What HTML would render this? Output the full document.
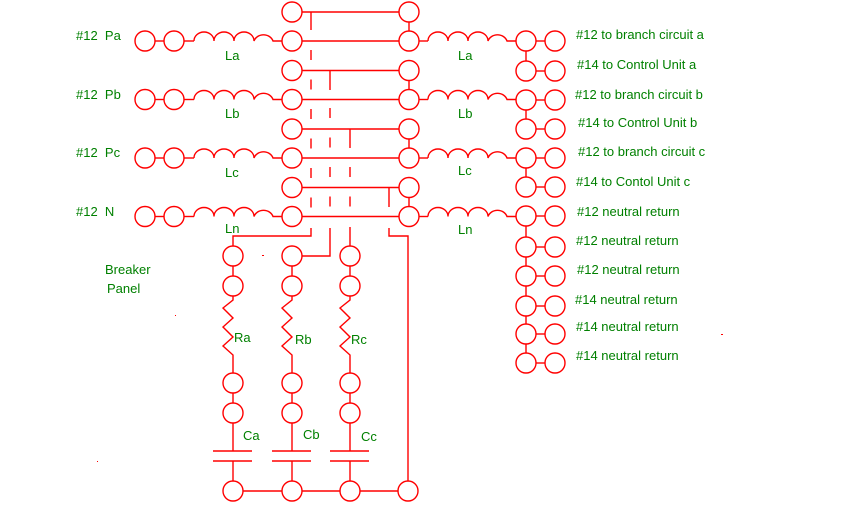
<!DOCTYPE html>
<html><head><meta charset="utf-8"><style>
html,body{margin:0;padding:0;background:#fff;}
svg{display:block;}
text{font-family:"Liberation Sans",sans-serif;font-size:13px;fill:#008000;white-space:pre;}
</style></head><body>
<svg width="857" height="513" viewBox="0 0 857 513" xmlns="http://www.w3.org/2000/svg">
<g stroke="#f00" stroke-width="1.4" fill="none">
<g id="rowA">
<circle cx="145" cy="41" r="10"/><circle cx="174" cy="41" r="10"/>
<line x1="155" y1="41" x2="164" y2="41"/><line x1="184" y1="41" x2="194" y2="41"/>
<path d="M194 41 a10 9 0 0 1 20 0 a10 9 0 0 1 20 0 a10 9 0 0 1 20 0 a10 9 0 0 1 19 0 L282 41"/>
<circle cx="292" cy="41" r="10"/><line x1="302" y1="41" x2="399" y2="41"/><circle cx="409" cy="41" r="10"/>
<line x1="419" y1="41" x2="428" y2="41"/>
<path d="M428 41 a10 9 0 0 1 20 0 a10 9 0 0 1 20 0 a10 9 0 0 1 20 0 a10 9 0 0 1 19 0 L516 41"/>
</g>
<use href="#rowA" y="58.5"/>
<use href="#rowA" y="117"/>
<use href="#rowA" y="175.5"/>
<g id="topA">
<circle cx="292" cy="12" r="10"/><line x1="302" y1="12" x2="399" y2="12"/><circle cx="409" cy="12" r="10"/>
<line x1="409" y1="22" x2="409" y2="31"/>
</g>
<use href="#topA" y="58.5"/>
<use href="#topA" y="117"/>
<use href="#topA" y="175.5"/>
<line x1="311" y1="12" x2="311" y2="30"/>
<line x1="330" y1="70" x2="330" y2="90"/>
<line x1="350" y1="129" x2="350" y2="148"/>
<line x1="389" y1="187" x2="389" y2="207"/>
<g stroke-dasharray="10 19.5">
<line x1="311" y1="50" x2="311" y2="208"/>
<line x1="330" y1="108" x2="330" y2="208"/>
<line x1="350" y1="167" x2="350" y2="208"/>
</g>
<polyline points="311,228 311,236 233,236 233,246"/>
<polyline points="330,228 330,256 302,256"/>
<line x1="350" y1="227" x2="350" y2="246"/>
<polyline points="389,228 389,236 408,236 408,481"/>
<g id="rc">
<circle cx="526" cy="41" r="10"/><line x1="536" y1="41" x2="545" y2="41"/><circle cx="555" cy="41" r="10"/>
</g>
<use href="#rc" y="30"/><use href="#rc" y="59"/><use href="#rc" y="88"/><use href="#rc" y="117"/>
<use href="#rc" y="146"/><use href="#rc" y="175"/><use href="#rc" y="206"/><use href="#rc" y="235"/>
<use href="#rc" y="265"/><use href="#rc" y="293"/><use href="#rc" y="322"/>
<line x1="526" y1="51" x2="526" y2="61"/>
<line x1="526" y1="110" x2="526" y2="119"/>
<line x1="526" y1="168" x2="526" y2="177"/>
<line x1="526" y1="226" x2="526" y2="237"/>
<line x1="526" y1="257" x2="526" y2="266"/>
<line x1="526" y1="286" x2="526" y2="296"/>
<line x1="526" y1="316" x2="526" y2="324"/>
<line x1="526" y1="344" x2="526" y2="353"/>
<g id="br">
<circle cx="233" cy="256" r="10"/><line x1="233" y1="266" x2="233" y2="276"/>
<circle cx="233" cy="286" r="10"/>
<polyline points="233,296 233,300 223,308 233,318 223,327 233,337 223,346 233,355 233,373"/>
<circle cx="233" cy="383" r="10"/><line x1="233" y1="393" x2="233" y2="403"/>
<circle cx="233" cy="413" r="10"/>
<line x1="233" y1="423" x2="233" y2="451"/>
<line x1="213" y1="451" x2="252" y2="451"/><line x1="213" y1="461" x2="252" y2="461"/>
<line x1="233" y1="461" x2="233" y2="481"/>
<circle cx="233" cy="491" r="10"/>
</g>
<use href="#br" x="59"/><use href="#br" x="117"/>
<circle cx="408" cy="491" r="10"/>
<line x1="243" y1="491" x2="282" y2="491"/>
<line x1="302" y1="491" x2="340" y2="491"/>
<line x1="360" y1="491" x2="398" y2="491"/>
</g>
<g fill="#f00">
<rect x="262" y="255" width="2" height="1"/><rect x="175" y="315" width="1" height="1"/>
<rect x="97" y="461" width="1" height="1"/><rect x="721" y="334" width="2" height="1"/>
</g>
<text x="76" y="40">#12  Pa</text>
<text x="76" y="99">#12  Pb</text>
<text x="76" y="157">#12  Pc</text>
<text x="76" y="216">#12  N</text>
<text x="225" y="60">La</text><text x="225" y="118">Lb</text><text x="225" y="177">Lc</text><text x="225" y="233">Ln</text>
<text x="458" y="60">La</text><text x="458" y="118">Lb</text><text x="458" y="175">Lc</text><text x="458" y="234">Ln</text>
<text x="105" y="274">Breaker</text><text x="107" y="293">Panel</text>
<text x="234" y="342">Ra</text><text x="295" y="344">Rb</text><text x="351" y="344">Rc</text>
<text x="243" y="440">Ca</text><text x="303" y="439">Cb</text><text x="361" y="441">Cc</text>
<g>
<text x="576" y="39">#12 to branch circuit a</text>
<text x="577" y="69">#14 to Control Unit a</text>
<text x="575" y="99">#12 to branch circuit b</text>
<text x="578" y="127">#14 to Control Unit b</text>
<text x="578" y="156">#12 to branch circuit c</text>
<text x="576" y="186">#14 to Contol Unit c</text>
<text x="577" y="216">#12 neutral return</text>
<text x="576" y="245">#12 neutral return</text>
<text x="577" y="274">#12 neutral return</text>
<text x="575" y="304">#14 neutral return</text>
<text x="576" y="331">#14 neutral return</text>
<text x="576" y="360">#14 neutral return</text>
</g>
</svg>
</body></html>
